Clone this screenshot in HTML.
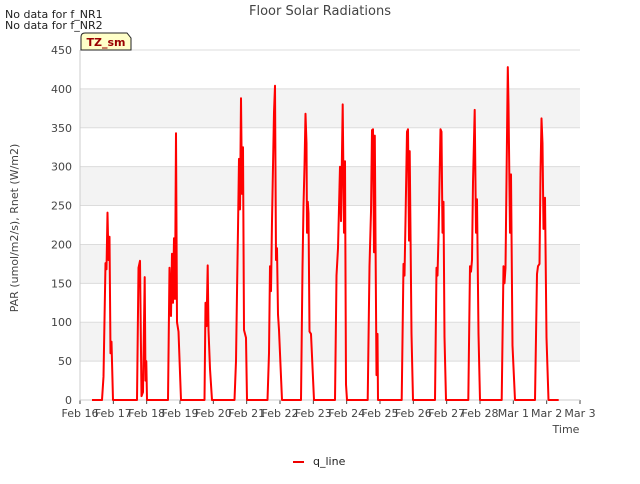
<!DOCTYPE html>
<html><head><meta charset="utf-8"><style>
body{margin:0;background:#fff;font-family:"DejaVu Sans","Liberation Sans",sans-serif}
svg text{font-family:"DejaVu Sans","Liberation Sans",sans-serif}
</style></head><body>
<svg id="chart" width="640" height="480" xmlns="http://www.w3.org/2000/svg">
<rect width="640" height="480" fill="#fff"/>
<g id="bands"></g>
<g id="grid"></g>
<g id="axes"></g>
<g id="series"></g>
<text x="320" y="15" text-anchor="middle" font-size="13" fill="#444">Floor Solar Radiations</text>
<text x="5" y="18" font-size="11" fill="#222">No data for f_NR1</text>
<text x="5" y="29" font-size="11" fill="#222">No data for f_NR2</text>
<g>
<path d="M81,50 L81,37 Q81,33 85,33 L127,33 L131,38 L131,50 Z" fill="#ffffc8" stroke="#222" stroke-width="1"/>
<text x="106" y="46" text-anchor="middle" font-size="11" font-weight="bold" fill="#900">TZ_sm</text>
</g>
<text transform="translate(18,228) rotate(-90)" text-anchor="middle" font-size="11" fill="#444">PAR (umol/m2/s), Rnet (W/m2)</text>
<text x="566" y="433" text-anchor="middle" font-size="11" fill="#444">Time</text>
<g>
<line x1="293" y1="462" x2="304" y2="462" stroke="#e00" stroke-width="2"/>
<text x="313" y="465" font-size="11" fill="#222">q_line</text>
</g>
</svg>
<script>
const xTickLabels=["Feb 16","Feb 17","Feb 18","Feb 19","Feb 20","Feb 21","Feb 22","Feb 23","Feb 24","Feb 25","Feb 26","Feb 27","Feb 28","Mar 1","Mar 2","Mar 3"];
const yTickValues=[0,50,100,150,200,250,300,350,400,450];
const times=[0.36,0.66,0.705,0.765,0.795,0.825,0.855,0.885,0.915,0.945,0.99,
1.71,1.755,1.80,1.845,1.89,1.941,1.965,1.989,2.01,
2.64,2.685,2.73,2.76,2.79,2.82,2.85,2.88,2.91,2.955,3.03,
3.735,3.765,3.795,3.831,3.855,3.90,3.96,
4.635,4.68,4.71,4.74,4.77,4.80,4.83,4.86,4.89,4.92,4.98,5.01,
5.625,5.67,5.70,5.73,5.76,5.79,5.82,5.85,5.88,5.91,5.94,5.97,6.06,
6.63,6.675,6.705,6.735,6.765,6.795,6.81,6.834,6.855,6.885,6.93,7.02,
7.65,7.695,7.74,7.80,7.83,7.881,7.92,7.95,7.98,8.01,
8.631,8.685,8.73,8.76,8.79,8.82,8.844,8.865,8.895,8.925,8.94,
9.651,9.705,9.735,9.765,9.81,9.84,9.87,9.891,9.945,9.99,
10.65,10.695,10.725,10.755,10.815,10.845,10.875,10.905,10.935,10.98,
11.649,11.70,11.73,11.76,11.79,11.841,11.88,11.91,11.955,12.00,
12.651,12.705,12.735,12.765,12.834,12.855,12.90,12.93,12.975,13.05,
13.65,13.71,13.74,13.785,13.815,13.845,13.875,13.905,13.95,13.995,14.055,14.36];
const qValues=[0,0,30,176,168,241,180,210,60,75,0,
0,170,179,5,10,158,25,50,0,
0,170,108,188,125,208,130,343,100,88,0,
0,125,95,173,90,40,0,
0,50,138,220,310,245,388,265,325,90,80,0,
0,60,172,140,230,300,370,404,180,195,110,90,0,
0,170,250,300,368,330,215,255,240,88,85,0,
0,160,195,300,230,380,215,307,20,0,
0,172,242,347,348,190,340,210,32,85,0,
0,175,160,230,345,348,205,320,85,0,
0,170,160,210,348,345,215,255,81,0,
0,172,165,180,280,373,215,258,85,0,
0,172,150,170,428,380,215,290,70,0,
0,162,172,175,290,362,330,220,260,80,0,0];
const X0=80,X1=580,Y0=400,Y1=50,NS="http://www.w3.org/2000/svg";
const xs=t=>X0+t*(X1-X0)/15, ys=v=>Y0-v*(Y0-Y1)/450;
function mk(tag,attrs,parent){const e=document.createElementNS(NS,tag);for(const k in attrs)e.setAttribute(k,attrs[k]);parent.appendChild(e);return e;}
const bands=document.getElementById('bands'),grid=document.getElementById('grid'),axes=document.getElementById('axes'),series=document.getElementById('series');
for(let i=1;i<yTickValues.length-1;i+=2){
 const r=mk('rect',{x:X0,y:ys(yTickValues[i+1]),width:X1-X0,height:ys(yTickValues[i])-ys(yTickValues[i+1]),fill:'#f3f3f3'},bands);
 
 
}
yTickValues.forEach(v=>{
 const l=mk('line',{x1:X0,x2:X1,y1:ys(v),y2:ys(v),stroke:'#dcdcdc','stroke-width':1},grid);
 
 
 const t=mk('text',{x:X0-8,y:ys(v)+4,'text-anchor':'end','font-size':11,fill:'#444'},axes);
 
 
 t.textContent=v;
});
xTickLabels.forEach((s,i)=>{
 const tk=mk('line',{x1:xs(i),x2:xs(i),y1:Y0,y2:Y0+4,stroke:'#444'},axes);
 
 
 const t=mk('text',{x:xs(i),y:Y0+17,'text-anchor':'middle','font-size':11,fill:'#444'},axes);
 
 
 t.textContent=s;
});
const ax=mk('path',{d:`M${X0},${Y1}V${Y0}H${X1}`,fill:'none',stroke:'#ccc'},axes);


const pts=times.map((t,i)=>xs(t).toFixed(1)+','+ys(qValues[i]).toFixed(1)).join(' ');
const pl=mk('polyline',{points:pts,fill:'none',stroke:'#f00','stroke-width':2,'stroke-linejoin':'round'},series);


</script>
</body></html>
